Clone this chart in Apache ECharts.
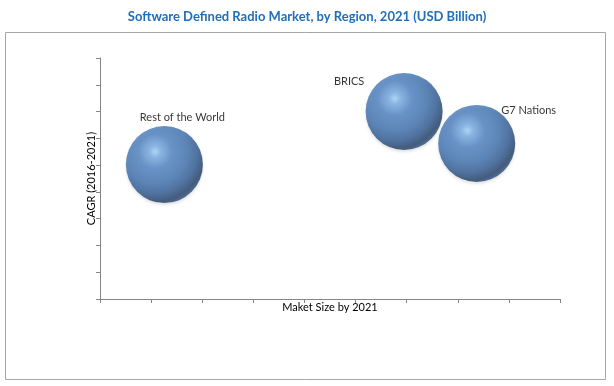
<!DOCTYPE html>
<html>
<head>
<meta charset="utf-8">
<script src="https://cdn.jsdelivr.net/npm/echarts@6/dist/echarts.min.js"></script>
<style>html,body{margin:0;padding:0;background:#fff;}#c{width:614px;height:386px;}</style>
</head>
<body>
<div id="c"></div>
<script>
var regions = ['Rest of the World', 'BRICS', 'G7 Nations'];
var marketSize = [1.26, 5.95, 7.37];
var cagr = [5.02, 7.0, 5.81];
var titleText = 'Software Defined Radio Market, by Region, 2021 (USD Billion)';
var xName = 'Maket Size by 2021';
var yName = 'CAGR (2016-2021)';

var labelOffsets = [[18, -47], [-55, -30], [52, -33]];

var sphere = {
  type: 'radial', x: 0.38, y: 0.33, r: 0.74,
  colorStops: [
    {offset: 0, color: '#9fd3fb'},
    {offset: 0.1, color: '#74aae2'},
    {offset: 0.3, color: '#4a7fc0'},
    {offset: 0.55, color: '#3c6fad'},
    {offset: 0.74, color: '#2c5790'},
    {offset: 0.88, color: '#1d3b63'},
    {offset: 1, color: '#2e5a93'}
  ]
};

var data = regions.map(function (r, i) {
  return {
    name: r,
    value: [marketSize[i], cagr[i]],
    label: {offset: labelOffsets[i]}
  };
});

var chart = echarts.init(document.getElementById('c'));
chart.setOption({
  animation: false,
  backgroundColor: '#fff',
  title: {
    text: titleText, left: 'center', top: 5,
    textStyle: {fontFamily: 'Lato', fontWeight: 'bold', fontSize: 13, color: '#1f6fb8'}
  },
  graphic: [{
    type: 'rect', shape: {x: 5.5, y: 32.5, width: 600, height: 347},
    style: {fill: 'none', stroke: '#a6a6a6', lineWidth: 1}, z: -1
  }],
  grid: {left: 100, right: 54, top: 58, bottom: 87},
  xAxis: {
    type: 'value', min: 0, max: 9, interval: 1,
    name: xName, nameLocation: 'middle', nameGap: 3,
    nameTextStyle: {fontFamily: 'Lato', fontSize: 11, color: '#000', verticalAlign: 'top'},
    axisLine: {show: true, lineStyle: {color: '#868686'}},
    axisTick: {show: true, length: 4, lineStyle: {color: '#868686'}},
    axisLabel: {show: false},
    splitLine: {show: false}
  },
  yAxis: {
    type: 'value', min: 0, max: 9, interval: 1,
    name: yName, nameLocation: 'middle', nameGap: 3,
    nameTextStyle: {fontFamily: 'Lato', fontSize: 11, color: '#000', verticalAlign: 'bottom'},
    axisLine: {show: true, lineStyle: {color: '#868686'}},
    axisTick: {show: true, length: 4, lineStyle: {color: '#868686'}},
    axisLabel: {show: false},
    splitLine: {show: false}
  },
  series: [{
    type: 'scatter',
    symbol: 'circle',
    symbolSize: 77,
    data: data,
    itemStyle: {color: sphere, shadowColor: 'rgba(0,0,0,0.15)', shadowBlur: 3, shadowOffsetY: 2},
    label: {
      show: true, position: 'inside', formatter: '{b}',
      fontFamily: 'Lato', fontSize: 11, color: '#000'
    },
    emphasis: {disabled: true}
  }]
});
</script>
</body>
</html>
